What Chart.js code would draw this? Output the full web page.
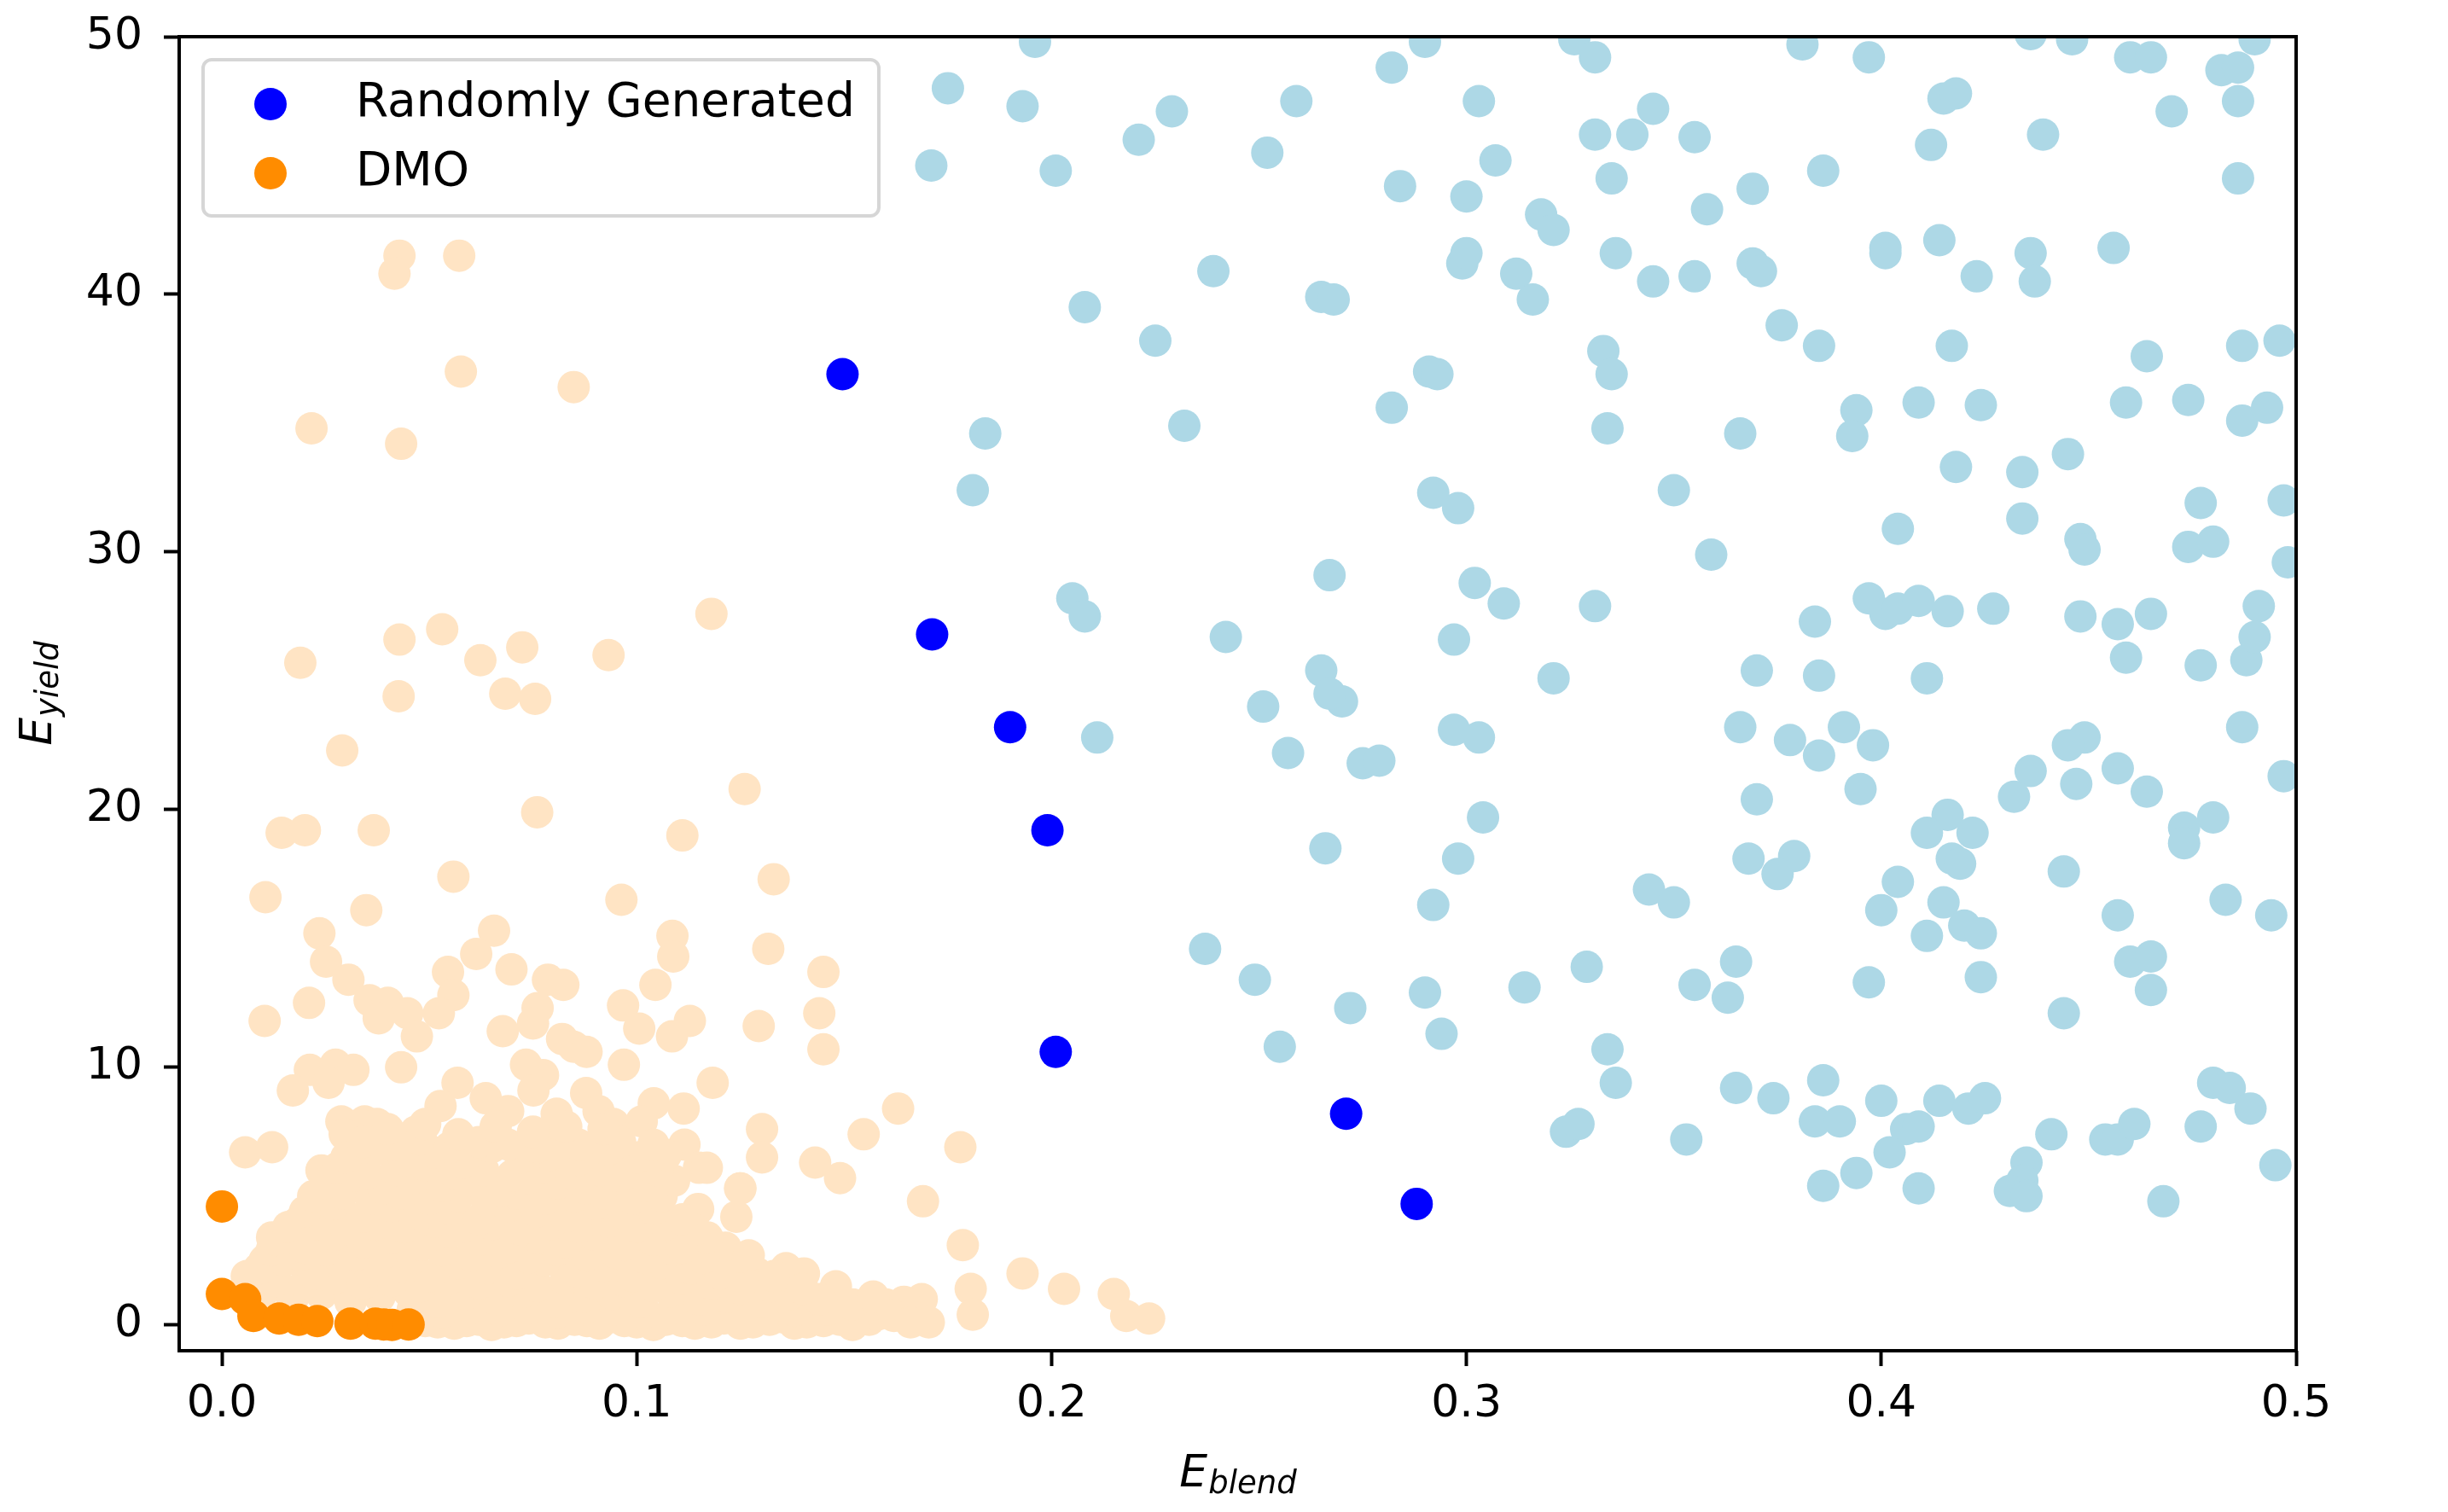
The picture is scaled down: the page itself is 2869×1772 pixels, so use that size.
<!DOCTYPE html>
<html>
<head>
<meta charset="utf-8">
<script src="https://cdn.jsdelivr.net/npm/chart.js@4.4.1/dist/chart.umd.min.js"></script>
<style>
html, body { margin: 0; padding: 0; background: #fff; }
#wrap { width: 2869px; height: 1772px; }
</style>
</head>
<body>
<div id="wrap"><canvas id="myChart" width="2869" height="1772"></canvas></div>
<script>
// tick labels
const xTicks = [0.0, 0.1, 0.2, 0.3, 0.4, 0.5];
const yTicks = [0, 10, 20, 30, 40, 50];

// legend entries
const legendLabels = ['Randomly Generated', 'DMO'];

// Randomly generated (highlighted) points [E_blend, E_yield]
const randomPoints = [
    [0.1496, 36.9], [0.1712, 26.8], [0.190, 23.2], [0.199, 19.2],
    [0.201, 10.6], [0.271, 8.2], [0.288, 4.7]
];

// DMO (highlighted) points
const dmoPoints = [
    [0.0, 4.6], [0.0, 1.2], [0.0056, 1.0], [0.0076, 0.35], [0.0138, 0.25],
    [0.0185, 0.2], [0.023, 0.15], [0.031, 0.05], [0.037, 0.05], [0.039, 0.02],
    [0.041, 0.0], [0.045, 0.02]
];

// all randomly generated samples (light blue)
const randomAll = [
    [0.171, 45.0], [0.175, 48.0], [0.196, 49.8], [0.193, 47.3], [0.201, 44.8], [0.221, 46.0],
    [0.229, 47.1], [0.252, 45.5], [0.259, 47.5], [0.282, 48.8], [0.290, 49.8], [0.284, 44.2],
    [0.303, 47.5], [0.300, 43.8], [0.307, 45.2], [0.318, 43.1], [0.321, 42.5], [0.326, 49.9],
    [0.331, 49.2], [0.331, 46.2], [0.335, 44.5], [0.340, 46.2], [0.345, 47.2], [0.355, 46.1],
    [0.358, 43.3], [0.369, 44.1], [0.381, 49.7], [0.386, 44.8], [0.397, 49.2], [0.412, 45.8],
    [0.415, 47.6], [0.418, 47.8], [0.436, 50.1], [0.446, 49.9], [0.439, 46.2], [0.460, 49.2],
    [0.465, 49.2], [0.470, 47.1], [0.482, 48.7], [0.486, 48.8], [0.486, 47.5], [0.490, 49.9],
    [0.486, 44.5], [0.414, 42.1], [0.401, 41.8], [0.401, 41.6], [0.423, 40.7], [0.436, 41.6],
    [0.437, 40.5], [0.456, 41.8], [0.417, 38.0], [0.418, 33.3], [0.409, 35.8], [0.424, 35.7],
    [0.434, 33.1], [0.434, 31.3], [0.445, 33.8], [0.459, 35.8], [0.464, 37.6], [0.474, 35.9],
    [0.487, 38.0], [0.496, 38.2], [0.487, 35.1], [0.493, 35.6], [0.497, 32.0], [0.477, 31.9],
    [0.474, 30.2], [0.480, 30.4], [0.498, 29.6], [0.491, 27.9], [0.465, 27.6], [0.457, 27.2],
    [0.448, 30.5], [0.449, 30.1], [0.448, 27.5], [0.459, 25.9], [0.477, 25.6], [0.488, 25.8],
    [0.490, 26.7], [0.487, 23.2], [0.497, 21.3], [0.457, 21.6], [0.464, 20.7], [0.449, 22.8],
    [0.445, 22.5], [0.447, 21.0], [0.436, 21.5], [0.432, 20.5], [0.416, 19.8], [0.411, 19.1],
    [0.422, 19.1], [0.417, 18.1], [0.419, 17.9], [0.480, 19.7], [0.473, 19.3], [0.473, 18.7],
    [0.457, 15.9], [0.444, 17.6], [0.415, 16.4], [0.420, 15.5], [0.424, 15.2], [0.411, 15.1],
    [0.404, 17.2], [0.400, 16.1], [0.483, 16.5], [0.494, 15.9], [0.460, 14.1], [0.465, 14.3],
    [0.465, 13.0], [0.424, 13.5], [0.397, 13.3], [0.444, 12.1], [0.384, 27.3], [0.385, 25.2],
    [0.385, 22.1], [0.391, 23.2], [0.395, 20.8], [0.398, 22.5], [0.397, 28.2], [0.401, 27.6],
    [0.404, 27.8], [0.409, 28.1], [0.416, 27.7], [0.427, 27.8], [0.411, 25.1], [0.394, 35.5],
    [0.393, 34.5], [0.404, 30.9], [0.385, 38.0], [0.376, 38.8], [0.369, 41.2], [0.371, 40.9],
    [0.345, 40.5], [0.355, 40.7], [0.336, 41.6], [0.333, 37.8], [0.335, 36.9], [0.334, 34.8],
    [0.366, 34.6], [0.350, 32.4], [0.359, 29.9], [0.331, 27.9], [0.370, 25.4], [0.366, 23.2],
    [0.378, 22.7], [0.370, 20.4], [0.368, 18.1], [0.379, 18.2], [0.375, 17.5], [0.344, 16.9],
    [0.350, 16.4], [0.365, 14.1], [0.355, 13.2], [0.363, 12.7], [0.329, 13.9], [0.334, 10.7],
    [0.336, 9.4], [0.365, 9.2], [0.374, 8.8], [0.386, 9.5], [0.384, 7.9], [0.390, 7.9],
    [0.386, 5.4], [0.394, 5.9], [0.353, 7.2], [0.324, 7.5], [0.327, 7.8], [0.400, 8.7],
    [0.406, 7.6], [0.409, 7.7], [0.402, 6.7], [0.409, 5.3], [0.414, 8.7], [0.421, 8.4],
    [0.425, 8.8], [0.441, 7.4], [0.435, 6.3], [0.434, 5.6], [0.431, 5.2], [0.435, 5.0],
    [0.454, 7.2], [0.457, 7.2], [0.461, 7.8], [0.477, 7.7], [0.480, 9.4], [0.484, 9.2],
    [0.489, 8.4], [0.468, 4.8], [0.495, 6.2], [0.314, 13.1], [0.290, 12.9], [0.294, 11.3],
    [0.272, 12.3], [0.255, 10.8], [0.249, 13.4], [0.237, 14.6], [0.266, 18.5], [0.292, 16.3],
    [0.298, 18.1], [0.304, 19.7], [0.303, 22.8], [0.297, 23.1], [0.257, 22.2], [0.251, 24.0],
    [0.275, 21.8], [0.279, 21.9], [0.270, 24.2], [0.265, 25.4], [0.267, 24.5], [0.321, 25.1],
    [0.297, 26.6], [0.309, 28.0], [0.302, 28.8], [0.267, 29.1], [0.242, 26.7], [0.205, 28.2],
    [0.208, 27.5], [0.211, 22.8], [0.298, 31.7], [0.292, 32.3], [0.291, 37.0], [0.293, 36.9],
    [0.282, 35.6], [0.265, 39.9], [0.268, 39.8], [0.239, 40.9], [0.232, 34.9], [0.225, 38.2],
    [0.208, 39.5], [0.184, 34.6], [0.181, 32.4], [0.299, 41.2], [0.300, 41.6], [0.312, 40.8],
    [0.316, 39.8]
];

// all DMO samples (bisque)
const dmoAll = [
    [0.0428, 41.5], [0.0416, 40.8], [0.0572, 41.5], [0.0576, 37.0], [0.0848, 36.4], [0.0216, 34.8],
    [0.0432, 34.2], [0.118, 27.6], [0.0531, 27.0], [0.0428, 26.6], [0.0724, 26.3], [0.0623, 25.8],
    [0.0932, 26.0], [0.0189, 25.7], [0.0426, 24.4], [0.0683, 24.5], [0.0755, 24.3], [0.029, 22.3],
    [0.126, 20.8], [0.076, 19.9],
    [0.0144, 19.1], [0.020, 19.2], [0.0366, 19.2], [0.111, 19.0], [0.0558, 17.4], [0.0105, 16.6],
    [0.0963, 16.5], [0.0348, 16.1], [0.133, 17.3], [0.0235, 15.2], [0.0656, 15.3], [0.0613, 14.4],
    [0.0698, 13.8], [0.0251, 14.1], [0.0305, 13.4], [0.1086, 15.1], [0.1088, 14.3], [0.1317, 14.6],
    [0.1045, 13.2], [0.0545, 13.7], [0.0356, 12.6], [0.040, 12.5], [0.0447, 12.1], [0.047, 11.2],
    [0.0378, 11.9], [0.0558, 12.8], [0.0523, 12.1], [0.0786, 13.4], [0.0823, 13.2], [0.0761, 12.3],
    [0.075, 11.7], [0.0677, 11.4], [0.0967, 12.4], [0.1006, 11.5], [0.1128, 11.8], [0.1085, 11.2],
    [0.1294, 11.6], [0.082, 11.1], [0.0848, 10.8], [0.0879, 10.6], [0.0103, 11.8], [0.021, 12.5],
    [0.0969, 10.1], [0.0432, 10.0], [0.0212, 9.9], [0.0274, 10.1], [0.0317, 9.9], [0.0171, 9.1],
    [0.0257, 9.4], [0.0733, 10.1], [0.0774, 9.7], [0.0751, 9.1], [0.0568, 9.4], [0.0878, 9.0],
    [0.1183, 9.4], [0.1041, 8.6], [0.1113, 8.4], [0.0636, 8.8], [0.0527, 8.5], [0.069, 8.3],
    [0.0807, 8.2], [0.0908, 8.3], [0.0944, 7.8], [0.1012, 7.9], [0.0288, 7.9], [0.0344, 7.9],
    [0.0374, 7.8], [0.0467, 7.5], [0.0296, 7.4], [0.1302, 7.6], [0.1302, 6.5], [0.1115, 7.0],
    [0.115, 6.1], [0.0949, 6.2], [0.1014, 6.3], [0.0056, 6.7], [0.0121, 6.9], [0.024, 6.0],
    [0.0352, 6.7], [0.0438, 6.2], [0.0545, 6.8], [0.0613, 6.6], [0.0733, 6.3], [0.0788, 7.1],
    [0.0825, 7.2], [0.125, 5.3], [0.145, 13.7], [0.144, 12.1], [0.145, 10.7],
    [0.0121, 3.4], [0.0185, 4.0], [0.0249, 4.4], [0.0263, 3.2], [0.0103, 2.5], [0.006, 1.9],
    [0.0333, 4.1], [0.0457, 5.0], [0.0523, 5.0], [0.063, 5.3], [0.0724, 4.8], [0.0807, 5.1],
    [0.0889, 5.6], [0.1169, 6.1], [0.1249, 5.3], [0.124, 4.2], [0.1214, 3.0], [0.1148, 4.5],
    [0.1097, 3.6], [0.1019, 4.5], [0.0959, 3.1], [0.1078, 1.7], [0.143, 6.3], [0.149, 5.7],
    [0.1547, 7.4], [0.169, 4.8], [0.178, 6.9], [0.1786, 3.1], [0.1237, 1.9], [0.129, 2.0],
    [0.136, 2.2], [0.1403, 2.0], [0.148, 1.5], [0.1687, 1.0], [0.1644, 0.9], [0.160, 0.8],
    [0.1704, 0.1], [0.1805, 1.4], [0.181, 0.4], [0.156, 0.2], [0.151, 0.7], [0.1445, 0.4],
    [0.163, 8.4], [0.193, 2.0], [0.203, 1.4], [0.215, 1.2], [0.218, 0.35], [0.2235, 0.25],
    [0.158, 0.4], [0.1537, 0.5],
    // dense cluster near the origin
    [0.049, 0.15], [0.056, 0.05], [0.062, 0.2], [0.068, 0.1], [0.074, 0.25], [0.081, 0.05],
    [0.088, 0.15], [0.094, 0.3], [0.100, 0.1], [0.107, 0.2], [0.114, 0.05], [0.121, 0.25],
    [0.128, 0.1], [0.135, 0.3], [0.141, 0.1], [0.149, 0.2], [0.162, 0.35],
    [0.052, 0.1], [0.059, 0.15], [0.065, 0.0], [0.071, 0.15], [0.078, 0.1], [0.085, 0.2],
    [0.091, 0.05], [0.097, 0.15], [0.104, 0.0], [0.111, 0.15], [0.118, 0.1], [0.125, 0.05],
    [0.132, 0.2], [0.138, 0.05], [0.145, 0.15], [0.152, 0.0], [0.166, 0.1],
    [0.046, 0.6], [0.053, 0.5], [0.060, 0.7], [0.067, 0.55], [0.074, 0.65], [0.081, 0.5],
    [0.088, 0.7], [0.095, 0.6], [0.102, 0.5], [0.109, 0.65], [0.116, 0.6], [0.124, 0.5],
    [0.131, 0.7], [0.138, 0.55], [0.146, 0.6],
    [0.010, 1.3], [0.017, 1.0], [0.024, 1.2], [0.031, 0.9], [0.038, 1.1], [0.045, 1.3],
    [0.052, 0.9], [0.059, 1.2], [0.066, 1.0], [0.073, 1.3], [0.080, 0.9], [0.087, 1.1],
    [0.094, 1.2], [0.101, 0.9], [0.108, 1.3], [0.115, 1.0], [0.122, 1.1], [0.130, 0.9],
    [0.137, 1.2], [0.144, 1.0], [0.152, 0.8],
    [0.013, 1.7], [0.020, 1.6], [0.027, 1.8], [0.034, 1.6], [0.041, 1.7], [0.048, 1.5],
    [0.055, 1.8], [0.062, 1.6], [0.069, 1.7], [0.076, 1.5], [0.083, 1.8], [0.090, 1.6],
    [0.097, 1.7], [0.104, 1.5], [0.111, 1.8], [0.118, 1.6], [0.125, 1.4], [0.132, 1.5],
    [0.140, 1.4], [0.157, 1.1],
    [0.009, 2.2], [0.015, 2.5], [0.022, 2.0], [0.029, 2.4], [0.036, 2.1], [0.043, 2.3],
    [0.050, 1.9], [0.057, 2.4], [0.064, 2.2], [0.071, 2.0], [0.078, 2.5], [0.085, 2.1],
    [0.092, 2.3], [0.099, 1.9], [0.106, 2.4], [0.113, 2.2], [0.120, 2.0], [0.133, 1.9],
    [0.012, 2.9], [0.019, 2.7], [0.025, 2.9], [0.032, 2.7], [0.039, 2.8], [0.046, 2.6],
    [0.053, 2.9], [0.060, 2.7], [0.067, 2.8], [0.074, 2.6], [0.081, 2.9], [0.088, 2.7],
    [0.095, 2.8], [0.102, 2.6], [0.109, 2.9], [0.116, 2.6], [0.127, 2.7],
    [0.013, 3.3], [0.020, 3.0], [0.027, 3.5], [0.034, 3.2], [0.041, 3.4], [0.048, 3.1],
    [0.055, 3.6], [0.062, 3.3], [0.069, 3.0], [0.076, 3.4], [0.083, 3.2], [0.090, 3.5],
    [0.097, 3.1], [0.104, 3.3], [0.111, 3.0], [0.117, 3.4],
    [0.016, 3.8], [0.023, 3.9], [0.030, 3.7], [0.037, 3.9], [0.044, 3.8], [0.051, 4.0],
    [0.058, 3.8], [0.065, 3.9], [0.072, 3.7], [0.079, 3.9], [0.086, 3.8], [0.093, 4.0],
    [0.100, 3.8], [0.107, 3.9], [0.114, 3.7],
    [0.020, 4.4], [0.027, 4.7], [0.034, 4.2], [0.041, 4.6], [0.048, 4.3], [0.055, 4.5],
    [0.062, 4.1], [0.069, 4.6], [0.076, 4.4], [0.083, 4.2], [0.090, 4.7], [0.097, 4.3],
    [0.104, 4.5], [0.111, 4.1],
    [0.022, 5.0], [0.029, 5.1], [0.036, 4.9], [0.043, 5.1], [0.050, 4.9], [0.057, 5.0],
    [0.064, 4.8], [0.071, 5.1], [0.078, 4.9], [0.085, 5.0], [0.092, 5.1], [0.099, 4.9],
    [0.106, 5.0],
    [0.025, 5.5], [0.032, 5.8], [0.039, 5.3], [0.046, 5.7], [0.053, 5.4], [0.060, 5.6],
    [0.067, 5.2], [0.074, 5.7], [0.081, 5.5], [0.088, 5.3], [0.095, 5.8], [0.102, 5.4],
    [0.109, 5.6],
    [0.028, 6.1], [0.035, 5.9], [0.042, 6.0], [0.049, 6.2], [0.056, 5.9], [0.063, 6.0],
    [0.070, 5.8], [0.077, 6.1], [0.084, 5.9], [0.091, 6.0], [0.098, 5.9], [0.105, 6.0],
    [0.030, 6.5], [0.037, 6.8], [0.044, 6.4], [0.051, 6.7], [0.058, 6.3], [0.065, 6.9],
    [0.072, 6.5], [0.079, 6.6], [0.086, 6.4], [0.093, 6.8], [0.100, 6.5], [0.107, 6.6],
    [0.034, 7.1], [0.041, 7.0], [0.048, 7.2], [0.055, 6.9], [0.062, 7.1], [0.069, 7.0],
    [0.076, 6.9], [0.086, 7.0], [0.096, 7.1], [0.104, 7.0],
    [0.040, 7.6], [0.049, 7.8], [0.057, 7.4], [0.066, 7.7], [0.075, 7.5], [0.083, 7.7],
    [0.092, 7.6]
];

const toXY = pts => pts.map(p => ({ x: p[0], y: p[1] }));

const FONT = 'DejaVu Sans';
const POINT_R = 19;

function drawSubLabel(ctx, main, sub, cx, baseY) {
    ctx.font = 'italic 52px "' + FONT + '"';
    const w1 = ctx.measureText(main).width;
    ctx.font = 'italic 37px "' + FONT + '"';
    const w2 = ctx.measureText(sub).width;
    const x0 = cx - (w1 + w2) / 2;
    ctx.textAlign = 'left';
    ctx.textBaseline = 'alphabetic';
    ctx.fillStyle = '#000';
    ctx.font = 'italic 52px "' + FONT + '"';
    ctx.fillText(main, x0, baseY);
    ctx.font = 'italic 37px "' + FONT + '"';
    ctx.fillText(sub, x0 + w1 + 1, baseY + 8);
}

const decorPlugin = {
    id: 'decor',
    afterDatasetsDraw(chart) {
        const { ctx, chartArea: a } = chart;
        ctx.save();
        ctx.strokeStyle = '#000';
        ctx.lineWidth = 4;
        ctx.strokeRect(a.left, a.top, a.right - a.left, a.bottom - a.top);
        ctx.restore();
    },
    afterDraw(chart) {
        const { ctx, chartArea: a } = chart;
        ctx.save();

        // legend frame
        const bx = a.left + 28, by = a.top + 27, bw = 792, bh = 183, r = 10;
        ctx.beginPath();
        ctx.moveTo(bx + r, by);
        ctx.arcTo(bx + bw, by, bx + bw, by + bh, r);
        ctx.arcTo(bx + bw, by + bh, bx, by + bh, r);
        ctx.arcTo(bx, by + bh, bx, by, r);
        ctx.arcTo(bx, by, bx + bw, by, r);
        ctx.closePath();
        ctx.fillStyle = 'rgba(255,255,255,0.8)';
        ctx.fill();
        ctx.strokeStyle = '#d6d6d6';
        ctx.lineWidth = 4;
        ctx.stroke();

        // legend entries use the highlighted datasets
        const entries = [chart.data.datasets[1], chart.data.datasets[0]];
        entries.forEach((ds, i) => {
            const my = by + 52 + i * 81;
            ctx.beginPath();
            ctx.arc(bx + 79, my, POINT_R, 0, Math.PI * 2);
            ctx.fillStyle = ds.backgroundColor;
            ctx.fill();
            ctx.fillStyle = '#000';
            ctx.font = '55px "' + FONT + '"';
            ctx.textAlign = 'left';
            ctx.textBaseline = 'alphabetic';
            ctx.fillText(legendLabels[i], bx + 179, my + 14);
        });

        // axis titles
        drawSubLabel(ctx, 'E', 'blend', (a.left + a.right) / 2, 1742);
        ctx.translate(60, (a.top + a.bottom) / 2);
        ctx.rotate(-Math.PI / 2);
        drawSubLabel(ctx, 'E', 'yield', 0, 0);
        ctx.restore();
    }
};

// keep tick label overhang from pushing the plot area around
function noScalePadding(scale) {
    scale.paddingTop = 0;
    scale.paddingBottom = 0;
    scale.paddingLeft = 0;
    scale.paddingRight = 0;
}

const ctx = document.getElementById('myChart').getContext('2d');
window.myChart = new Chart(ctx, {
    type: 'scatter',
    data: {
        datasets: [
            {
                label: 'DMO',
                data: toXY(dmoPoints),
                backgroundColor: '#ff8c00',
                order: 0
            },
            {
                label: 'Randomly Generated',
                data: toXY(randomPoints),
                backgroundColor: '#0000ff',
                order: 1
            },
            {
                label: 'DMO samples',
                data: toXY(dmoAll),
                backgroundColor: '#ffe4c4',
                order: 2
            },
            {
                label: 'Random samples',
                data: toXY(randomAll),
                backgroundColor: '#add8e6',
                order: 3
            }
        ].map(ds => Object.assign(ds, {
            pointRadius: POINT_R,
            pointHoverRadius: POINT_R,
            borderWidth: 0,
            pointBorderWidth: 0,
            clip: 0
        }))
    },
    plugins: [decorPlugin],
    options: {
        responsive: false,
        devicePixelRatio: 1,
        animation: false,
        events: [],
        layout: { padding: { left: 0, top: 43, right: 178, bottom: 0 } },
        plugins: {
            legend: { display: false },
            tooltip: { enabled: false }
        },
        scales: {
            x: {
                type: 'linear',
                min: -0.0103,
                max: 0.5,
                afterBuildTicks: scale => { scale.ticks = xTicks.map(v => ({ value: v })); },
                afterFit: scale => { scale.height = 189; noScalePadding(scale); },
                ticks: {
                    autoSkip: false,
                    maxRotation: 0,
                    padding: 14,
                    color: '#000',
                    font: { family: FONT, size: 52 },
                    callback: v => Number(v).toFixed(1)
                },
                grid: {
                    display: true,
                    drawOnChartArea: false,
                    drawTicks: true,
                    tickLength: 18,
                    tickWidth: 4,
                    tickColor: '#000'
                },
                border: { display: false }
            },
            y: {
                type: 'linear',
                min: -1,
                max: 50,
                afterBuildTicks: scale => { scale.ticks = yTicks.map(v => ({ value: v })); },
                afterFit: scale => { scale.width = 210; noScalePadding(scale); },
                ticks: {
                    autoSkip: false,
                    padding: 25,
                    color: '#000',
                    font: { family: FONT, size: 52 },
                    callback: v => String(v)
                },
                grid: {
                    display: true,
                    drawOnChartArea: false,
                    drawTicks: true,
                    tickLength: 18,
                    tickWidth: 4,
                    tickColor: '#000'
                },
                border: { display: false }
            }
        }
    }
});
</script>
</body>
</html>
